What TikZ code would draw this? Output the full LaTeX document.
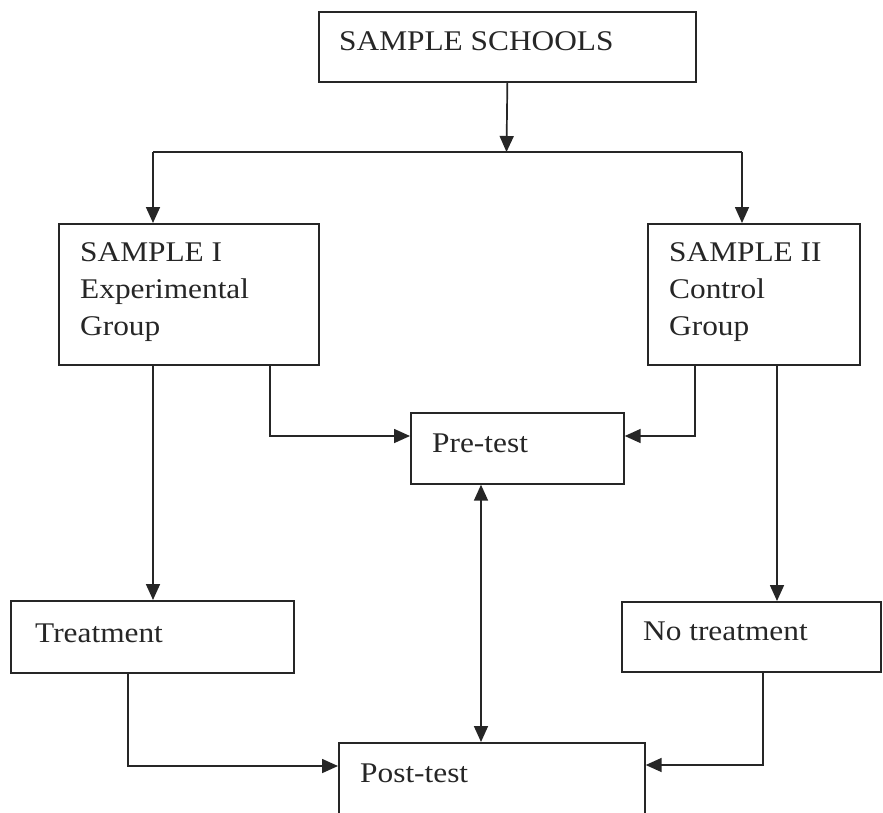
\documentclass[tikz,border=0pt]{standalone}
\usepackage{fontspec}
\setmainfont[FakeStretch=1.1]{Liberation Serif}
\usetikzlibrary{arrows.meta}
\definecolor{ink}{RGB}{38,38,38}
\tikzset{
  box/.style={draw=ink, line width=1.7pt, rectangle, inner sep=0pt, anchor=north west},
  lbl/.style={text=ink, anchor=base west, inner sep=0pt, align=left,
     font=\fontsize{28.5}{37}\selectfont},
  conn/.style={draw=ink, line width=1.7pt},
  tip/.tip={Triangle[length=16pt,width=14pt]},
  arr/.style={conn, -tip},
  darr/.style={conn, tip-tip}
}
\begin{document}
\begin{tikzpicture}[x=1pt,y=-1pt]
\useasboundingbox (0,0) rectangle (883,812);
\clip (0,0) rectangle (883,812);
\fill[white] (0,0) rectangle (883,812);
% boxes
\node[box, minimum width=377pt, minimum height=70pt] (ss) at (318,11) {};
\node[box, minimum width=260pt, minimum height=141pt] (s1) at (58,223) {};
\node[box, minimum width=212pt, minimum height=141pt] (s2) at (647,223) {};
\node[box, minimum width=213pt, minimum height=71pt] (pre) at (410,412) {};
\node[box, minimum width=283pt, minimum height=72pt] (tr) at (10,600) {};
\node[box, minimum width=259pt, minimum height=70pt] (nt) at (621,601) {};
\node[box, minimum width=306pt, minimum height=100pt] (post) at (338,742) {};
% texts
\node[lbl] (tss) at (339,50) {SAMPLE SCHOOLS};
\node[lbl] (ts1) at (80,335) {SAMPLE I\\Experimental\\Group};
\node[lbl] (ts2) at (669,335) {SAMPLE II\\Control\\Group};
\node[lbl] (tpre) at (432,452) {Pre-test};
\node[lbl] (ttr) at (35,642) {Treatment};
\node[lbl] (tnt) at (643,640) {No treatment};
\node[lbl] (tpost) at (360,782) {Post-test};
% coordinates
\coordinate (jn) at (506.5,152);
\coordinate (jl) at (153,152);
\coordinate (jr) at (742,152);
\coordinate (p1) at (270,436);
\coordinate (p2) at (695,436);
\coordinate (c2) at (777,0);
\coordinate (q1) at (128,766);
\coordinate (q2) at (763,765);
\coordinate (dv) at (481,0);
% connectors
\draw[arr] (ss.south) -- (jn);
\draw[conn] (jl) -- (jr);
\draw[arr] (jl) -- (jl |- s1.north);
\draw[arr] (jr) -- (jr |- s2.north);
\draw[arr] (jl |- s1.south) -- (jl |- tr.north);
\draw[arr] (p1 |- s1.south) |- (pre.west |- p1);
\draw[arr] (p2 |- s2.south) |- (pre.east |- p2);
\draw[arr] (c2 |- s2.south) -- (c2 |- nt.north);
\draw[arr] (q1 |- tr.south) |- (post.west |- q1);
\draw[arr] (q2 |- nt.south) |- (post.east |- q2);
\draw[darr] (dv |- pre.south) -- (dv |- post.north);
\end{tikzpicture}
\end{document}
